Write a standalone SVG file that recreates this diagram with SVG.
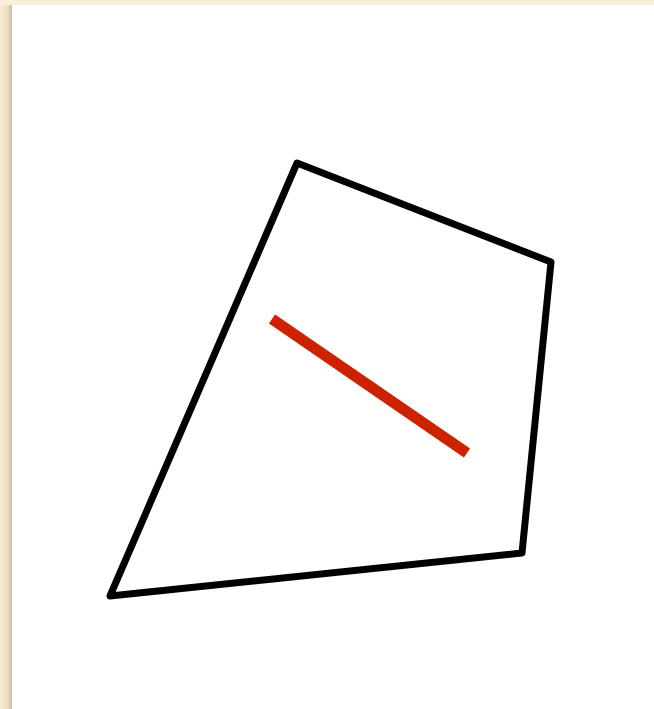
<svg xmlns="http://www.w3.org/2000/svg" width="654" height="709" viewBox="0 0 654 709">
<defs>
<linearGradient id="sh" x1="0" y1="0" x2="1" y2="0">
<stop offset="0" stop-color="#f8ebd3"/>
<stop offset="0.55" stop-color="#efe1c6"/>
<stop offset="1" stop-color="#c9bda5"/>
</linearGradient>
<style>
.shape{fill:none;stroke:#000;stroke-width:7;stroke-linejoin:round;stroke-linecap:round}
.seg{stroke:#cc2200;stroke-width:11;stroke-linecap:butt}
</style>
</defs>
<rect x="0" y="0" width="654" height="709" fill="#faeed8"/>
<rect x="0" y="5" width="12" height="704" fill="url(#sh)"/>
<rect x="12" y="5" width="642" height="704" fill="#ffffff"/>
<g id="quad">
<polygon class="shape" points="297,163 551,262 522,553 110,596"/>
</g>
<g id="segment">
<line class="seg" x1="272" y1="319" x2="467" y2="453"/>
</g>
</svg>
